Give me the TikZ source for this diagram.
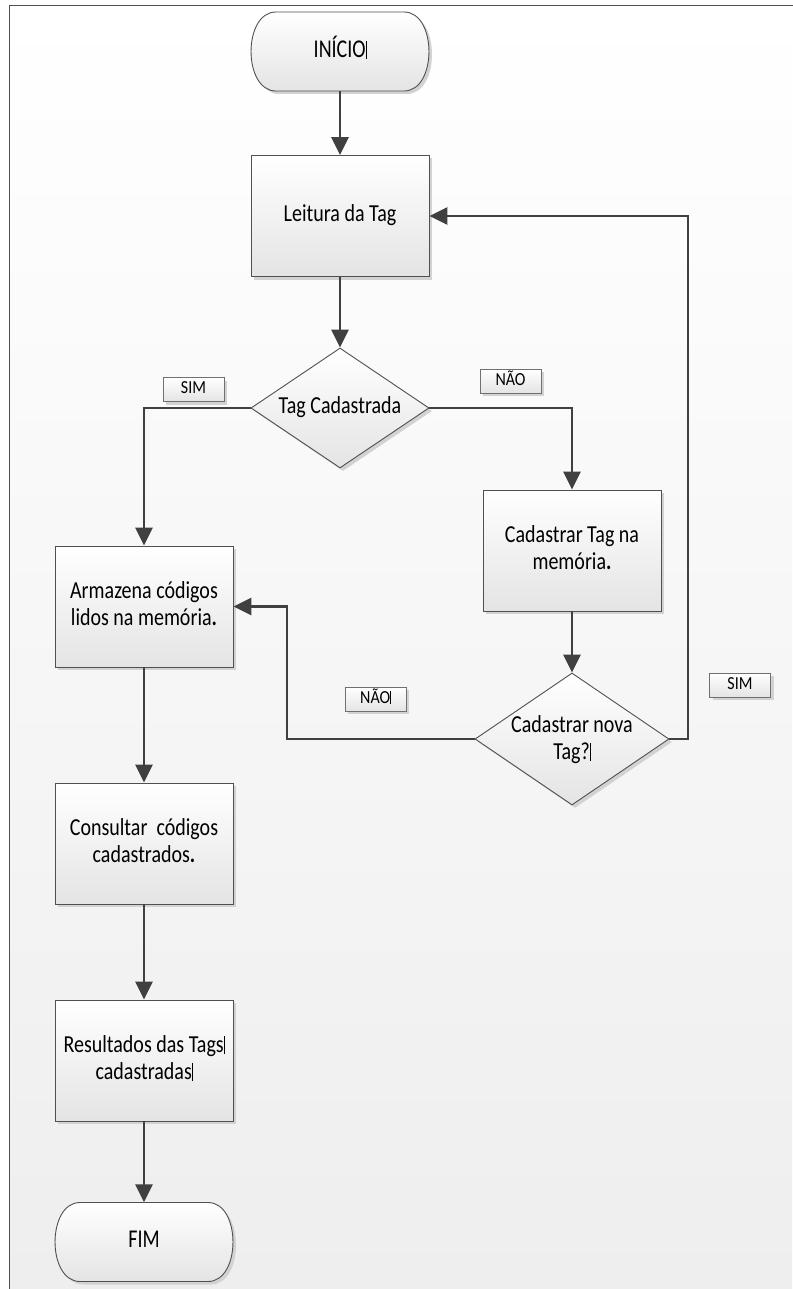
\documentclass[tikz,border=0pt]{standalone}
\usepackage{fontspec}
\setmainfont{Carlito}
\usetikzlibrary{arrows.meta,shapes.geometric,shadows}
\definecolor{ln}{HTML}{404040}
\definecolor{bd}{HTML}{505050}
\definecolor{bot}{HTML}{E4E4E4}
\definecolor{bgb}{HTML}{EEEEEE}
\definecolor{shd}{HTML}{D2D2D2}
\definecolor{lbd}{HTML}{707070}
\newcommand\sx[2][1.22]{\scalebox{1}[#1]{\begin{tabular}{@{}c@{}}#2\end{tabular}}}
\newcommand\crt{\rule[-0.05em]{0.6pt}{0.72em}}
\newcommand\termpath[2]{%
  \path[termfill] (#1-64,#2-39.5) -- (#1+64,#2-39.5)
    .. controls (#1+97.3,#2-39.5) and (#1+97.3,#2+39.5) .. (#1+64,#2+39.5)
    -- (#1-64,#2+39.5)
    .. controls (#1-97.3,#2+39.5) and (#1-97.3,#2-39.5) .. cycle;}
\begin{document}
\begin{tikzpicture}[x=1pt,y=-1pt,
  arr/.style={draw=ln, line width=2.6pt, -{Triangle[length=18pt,width=17pt]}},
  shdw/.style={drop shadow={shadow xshift=3pt, shadow yshift=-3pt, fill=shd, opacity=1}},
  box/.style={rectangle, draw=bd, line width=0.9pt, minimum width=178pt, minimum height=121pt,
    inner sep=0pt, top color=white, bottom color=bot, shdw, font=\fontsize{20}{22}\selectfont},
  termfill/.style={draw=bd, line width=0.9pt, top color=white, bottom color=bot, shdw},
  termtext/.style={rectangle, inner sep=0pt, minimum width=178pt, minimum height=79pt,
    font=\fontsize{20}{22}\selectfont},
  dec/.style={diamond, draw=bd, line width=0.9pt, inner sep=0pt, top color=white,
    bottom color=bot, shdw},
  dtxt/.style={inner sep=0pt, font=\fontsize{20}{22}\selectfont},
  lab/.style={rectangle, draw=lbd, line width=0.8pt, minimum width=61pt, minimum height=24pt,
    inner sep=0pt, top color=white, bottom color=bot, shdw, font=\fontsize{16}{18}\selectfont}]
\useasboundingbox (0,0) rectangle (792,1289);
\fill[white] (0,0) rectangle (792,1289);
\shade[top color=white, bottom color=bgb] (9,6) rectangle (792,1289);
\draw[bd, line width=1pt] (800,6) -- (9,6) -- (9,1295);

% terminals
\termpath{340}{51.5}
\node[termtext] (s) at (340,51.5) {\sx[1.28]{INÍCIO\crt}};
\termpath{144}{1242}
\node[termtext] (e) at (144,1242) {\sx[1.28]{FIM}};

% process boxes
\node[box] (b1) at (340,216) {\sx{Leitura da Tag}};
\node[box] (b2) at (572,550.5) {\sx{Cadastrar Tag na\\memória\textbf{.}}};
\node[box] (b3) at (144,606.5) {\sx{Armazena códigos\\lidos na memória\textbf{.}}};
\node[box] (b4) at (144,843.5) {\sx{Consultar~ códigos\\cadastrados\textbf{.}}};
\node[box] (b5) at (144,1060.5) {\sx{Resultados das Tags\crt\\cadastradas\crt}};

% decisions
\node[dec, minimum width=178pt, minimum height=120pt] (d1) at (340,408) {};
\node[dtxt] (d1t) at (d1) {\sx{Tag Cadastrada}};
\node[dec, minimum width=194pt, minimum height=132pt] (d2) at (572,739) {};
\node[dtxt] (d2t) at (572,741) {\sx{Cadastrar nova\\Tag?\crt}};

% labels
\node[lab] (l1) at (193.5,389.5) {\sx[1.15]{SIM}};
\node[lab] (l2) at (510.5,381) {\sx[1.15]{NÃO}};
\node[lab] (l3) at (740,685) {\sx[1.15]{SIM}};
\node[lab] (l4) at (375.5,699) {\sx[1.15]{NÃO\crt}};

\coordinate (c1) at (688,739);
\coordinate (c2) at (287,739);

% connectors
\draw[arr] (s.south) -- (b1.north);
\draw[arr] (b1.south) -- (d1.north);
\draw[arr] (d1.west) -| (b3.north);
\draw[arr] (d1.east) -| (b2.north);
\draw[arr] (b2.south) -- (d2.north);
\draw[arr] (d2.east) -- (c1) |- (b1.east);
\draw[arr] (d2.west) -- (c2) |- (b3.east);
\draw[arr] (b3.south) -- (b4.north);
\draw[arr] (b4.south) -- (b5.north);
\draw[arr] (b5.south) -- (e.north);
\end{tikzpicture}
\end{document}
